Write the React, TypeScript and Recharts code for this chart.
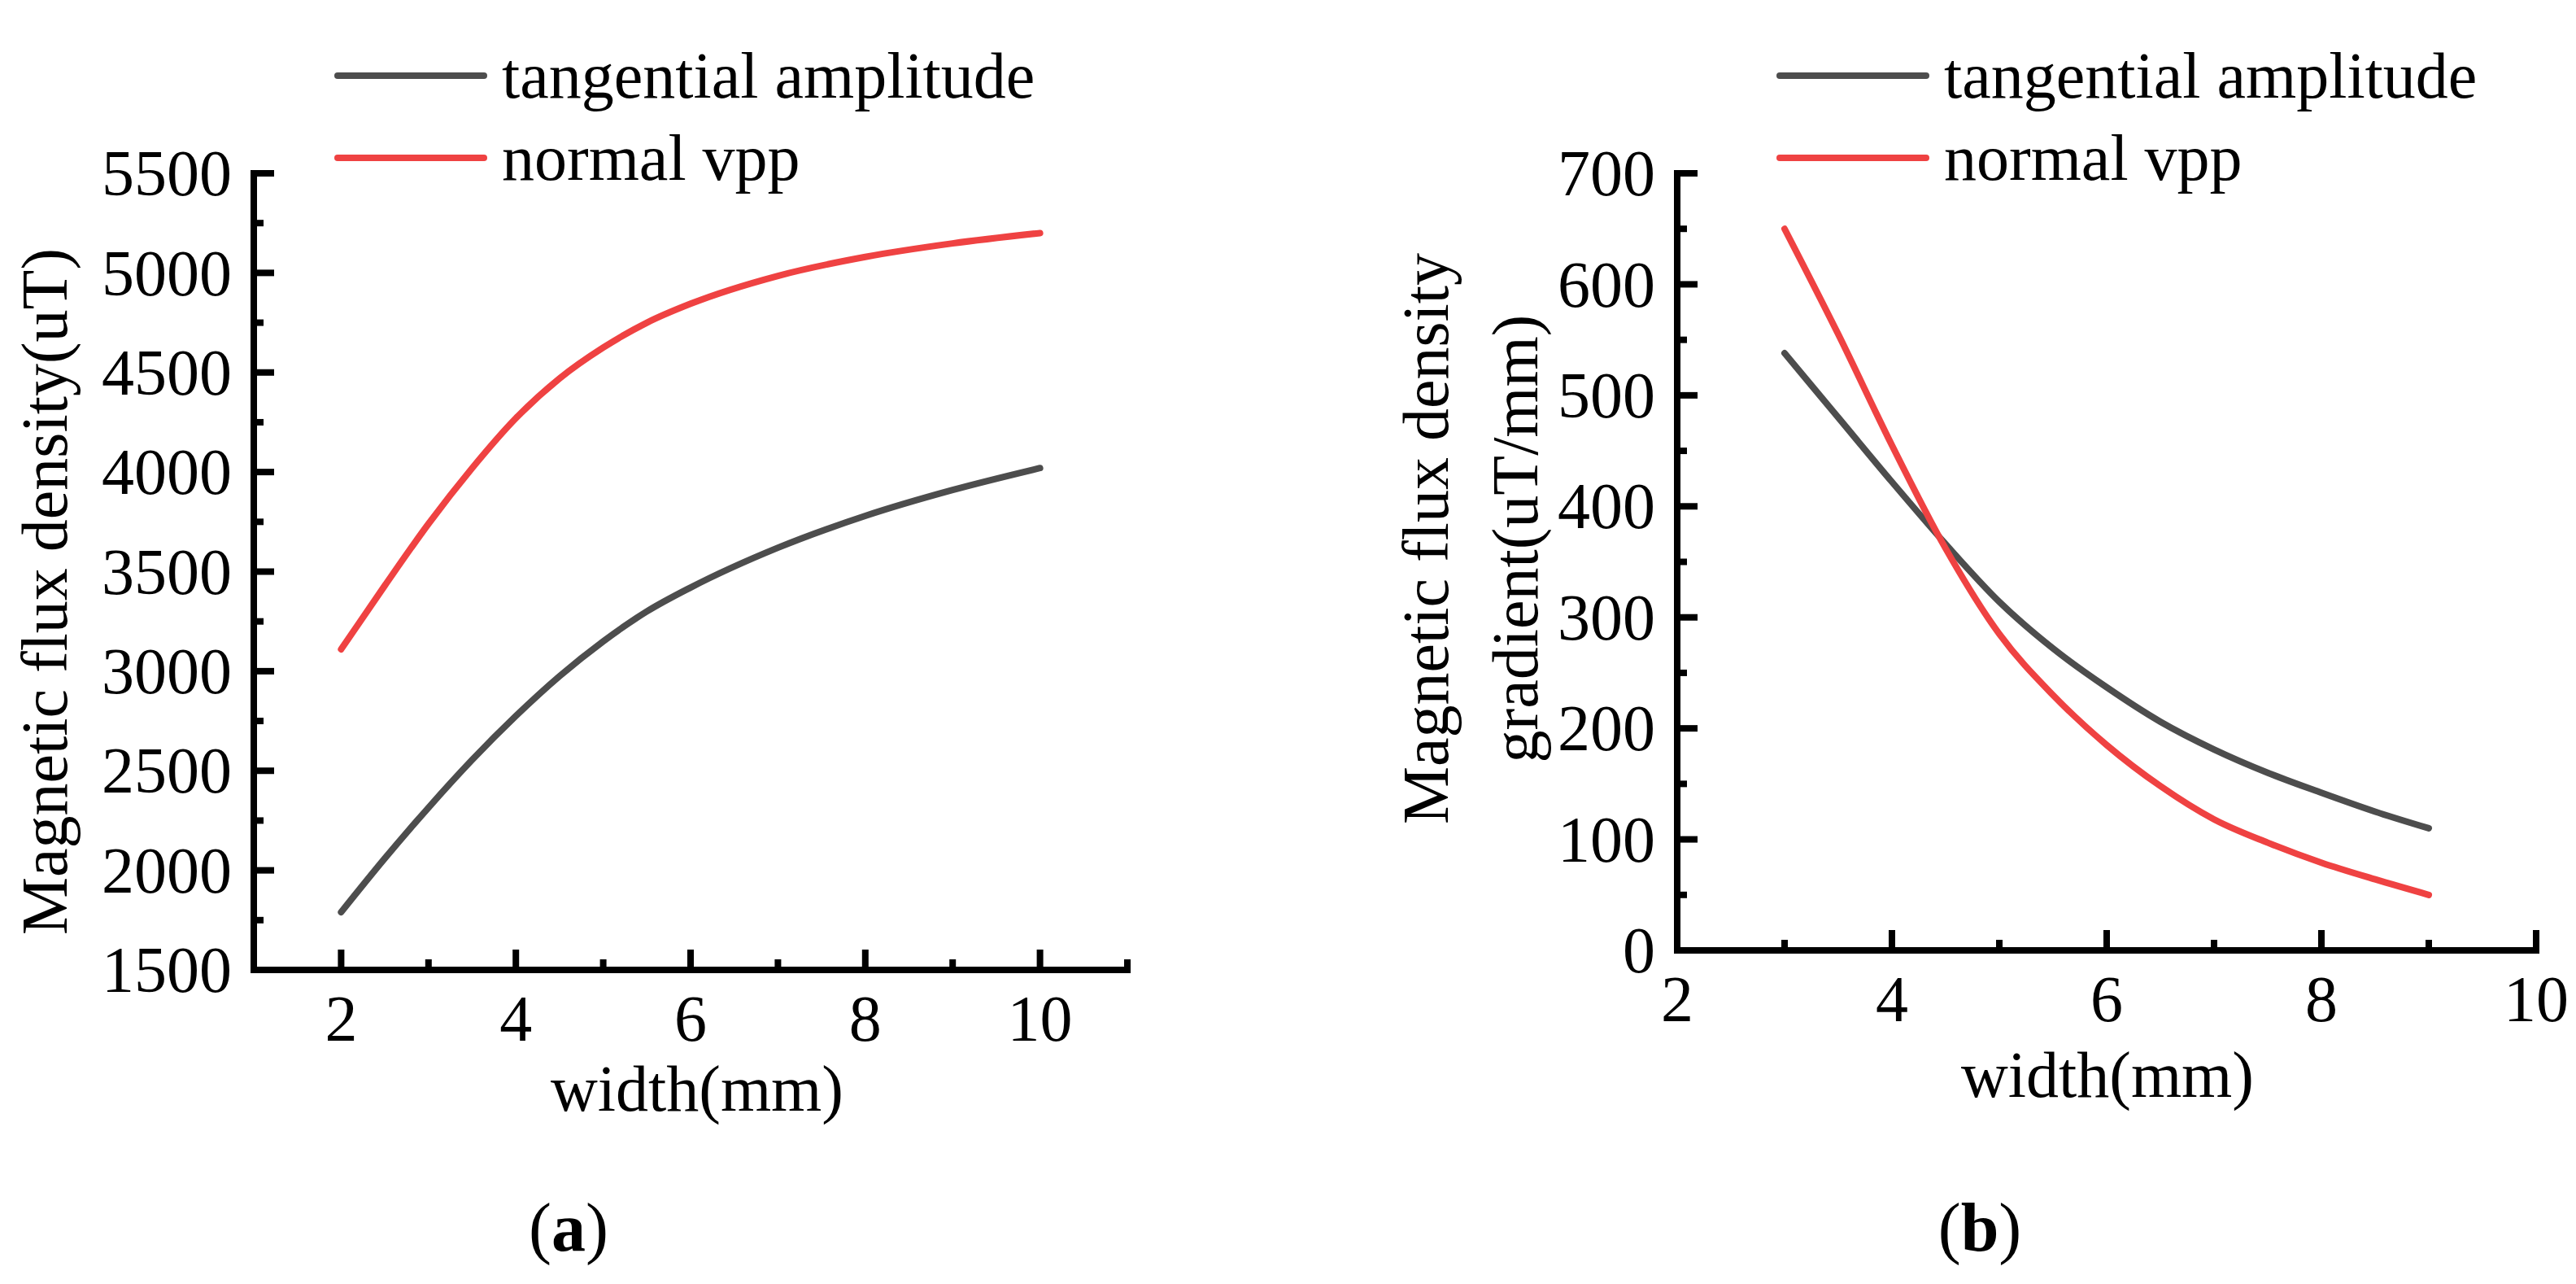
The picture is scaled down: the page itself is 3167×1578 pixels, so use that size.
import { LineChart, Line, XAxis, YAxis, Legend, Label } from 'recharts';

// (a) magnetic flux density vs width
const widthsA = [2, 2.5, 3, 3.5, 4, 4.5, 5, 5.5, 6, 7, 8, 9, 10];
const tangentialA = [1790, 2060, 2315, 2555, 2775, 2975, 3150, 3300, 3420, 3620, 3780, 3910, 4020];
const normalA = [3110, 3430, 3740, 4020, 4270, 4470, 4625, 4750, 4845, 4985, 5080, 5148, 5200];
const xTicksA = [1, 2, 3, 4, 5, 6, 7, 8, 9, 10, 11];
const xLabelsA = [2, 4, 6, 8, 10];
const yTicksA = [1500, 1750, 2000, 2250, 2500, 2750, 3000, 3250, 3500, 3750, 4000, 4250, 4500, 4750, 5000, 5250, 5500];
const yLabelsA = [1500, 2000, 2500, 3000, 3500, 4000, 4500, 5000, 5500];

// (b) magnetic flux density gradient vs width
const widthsB = [3, 3.5, 4, 4.5, 5, 5.5, 6, 6.5, 7, 7.5, 8, 8.5, 9];
const tangentialB = [538, 480, 422, 366, 314, 272, 237, 206, 181, 160, 142, 125, 110];
const normalB = [650, 555, 455, 362, 285, 230, 185, 148, 118, 97, 79, 64, 50];
const xTicksB = [2, 3, 4, 5, 6, 7, 8, 9, 10];
const xLabelsB = [2, 4, 6, 8, 10];
const yTicksB = [0, 50, 100, 150, 200, 250, 300, 350, 400, 450, 500, 550, 600, 650, 700];
const yLabelsB = [0, 100, 200, 300, 400, 500, 600, 700];

const seriesOrder = ['tangential', 'normal'];

const dataA = widthsA.map((w, i) => ({ width: w, tangential: tangentialA[i], normal: normalA[i] }));
const dataB = widthsB.map((w, i) => ({ width: w, tangential: tangentialB[i], normal: normalB[i] }));

const FONT = '"Liberation Serif", "Times New Roman", serif';
const GRAY = '#4d4d4d';
const RED = '#ef4242';

const makeXTick = (labels: number[]) => (props: any) => {
  const { x, y, payload } = props;
  const major = labels.includes(payload.value);
  return (
    <g>
      <line x1={x} x2={x} y1={y} y2={y - (major ? 25 : 13)} stroke="#000" strokeWidth={8} />
      {major && (
        <text x={x} y={y + 87} textAnchor="middle" fontSize={80} fontFamily={FONT} fill="#000">
          {payload.value}
        </text>
      )}
    </g>
  );
};

const makeYTick = (labels: number[]) => (props: any) => {
  const { x, y, payload } = props;
  const major = labels.includes(payload.value);
  return (
    <g>
      <line x1={x} x2={x + (major ? 25 : 12)} y1={y} y2={y} stroke="#000" strokeWidth={8} />
      {major && (
        <text x={x - 27} y={y} dy="0.34em" textAnchor="end" fontSize={80} fontFamily={FONT} fill="#000">
          {payload.value}
        </text>
      )}
    </g>
  );
};

const renderLegend = (props: any) => {
  const items = [...(props.payload || [])].sort(
    (a: any, b: any) => seriesOrder.indexOf(a.dataKey) - seriesOrder.indexOf(b.dataKey)
  );
  return (
    <svg width={1000} height={240} style={{ overflow: 'visible' }}>
      {items.map((p: any, i: number) => (
        <g key={p.value}>
          <line x1={4} x2={184} y1={20 + i * 101} y2={20 + i * 101} stroke={p.color} strokeWidth={8} strokeLinecap="round" />
          <text x={206} y={47 + i * 101} fontSize={80} fontFamily={FONT} fill="#000">
            {p.value}
          </text>
        </g>
      ))}
    </svg>
  );
};

const Caption = ({ x, letter }: { x: number; letter: string }) => (
  <text x={x} y={1537} textAnchor="middle" fontSize={84} fontFamily={FONT} fill="#000">
    <tspan>(</tspan>
    <tspan fontWeight="bold">{letter}</tspan>
    <tspan>)</tspan>
  </text>
);

const axisLine = { stroke: '#000', strokeWidth: 8, strokeLinecap: 'square' as const };

export default function App() {
  return (
    <div style={{ position: 'absolute', left: 0, top: 0, width: 3167, height: 1578, background: '#fff' }}>
      <div style={{ position: 'absolute', left: 0, top: 0 }}>
        <LineChart width={1560} height={1578} data={dataA} margin={{ top: 213, right: 174, bottom: 0, left: 0 }}>
          <XAxis
            dataKey="width"
            type="number"
            domain={[1, 11]}
            ticks={xTicksA}
            interval={0}
            height={386}
            tickSize={0}
            tickMargin={0}
            tickLine={false}
            axisLine={axisLine}
            tick={makeXTick(xLabelsA)}
          >
            <Label
              content={() => (
                <g>
                  <text x={857} y={1365} textAnchor="middle" fontSize={80} fontFamily={FONT} fill="#000">
                    width(mm)
                  </text>
                  <Caption x={699} letter="a" />
                </g>
              )}
            />
          </XAxis>
          <YAxis
            type="number"
            domain={[1500, 5500]}
            ticks={yTicksA}
            interval={0}
            width={312}
            tickSize={0}
            tickMargin={0}
            tickLine={false}
            axisLine={axisLine}
            tick={makeYTick(yLabelsA)}
          >
            <Label
              content={() => (
                <text x={82} y={727} transform="rotate(-90 82 727)" textAnchor="middle" fontSize={80} fontFamily={FONT} fill="#000">
                  Magnetic flux density(uT)
                </text>
              )}
            />
          </YAxis>
          <Legend
            layout="vertical"
            align="center"
            verticalAlign="middle"
            content={renderLegend}
            wrapperStyle={{ left: 411, top: 73, width: 1000, height: 240 }}
          />
          <Line name="tangential amplitude" dataKey="tangential" type="monotone" stroke={GRAY} strokeWidth={8} strokeLinecap="round" dot={false} isAnimationActive={false} />
          <Line name="normal vpp" dataKey="normal" type="monotone" stroke={RED} strokeWidth={8} strokeLinecap="round" dot={false} isAnimationActive={false} />
        </LineChart>
      </div>
      <div style={{ position: 'absolute', left: 1600, top: 0 }}>
        <LineChart width={1567} height={1578} data={dataB} margin={{ top: 213, right: 49, bottom: 0, left: 0 }}>
          <XAxis
            dataKey="width"
            type="number"
            domain={[2, 10]}
            ticks={xTicksB}
            interval={0}
            height={410}
            tickSize={0}
            tickMargin={0}
            tickLine={false}
            axisLine={axisLine}
            tick={makeXTick(xLabelsB)}
          >
            <Label
              content={() => (
                <g>
                  <text x={991} y={1348} textAnchor="middle" fontSize={80} fontFamily={FONT} fill="#000">
                    width(mm)
                  </text>
                  <Caption x={834} letter="b" />
                </g>
              )}
            />
          </XAxis>
          <YAxis
            type="number"
            domain={[0, 700]}
            ticks={yTicksB}
            interval={0}
            width={462}
            tickSize={0}
            tickMargin={0}
            tickLine={false}
            axisLine={axisLine}
            tick={makeYTick(yLabelsB)}
          >
            <Label
              content={() => (
                <g fontSize={80} fontFamily={FONT} fill="#000">
                  <text x={180} y={662} transform="rotate(-90 180 662)" textAnchor="middle">
                    Magnetic flux density
                  </text>
                  <text x={290} y={662} transform="rotate(-90 290 662)" textAnchor="middle">
                    gradient(uT/mm)
                  </text>
                </g>
              )}
            />
          </YAxis>
          <Legend
            layout="vertical"
            align="center"
            verticalAlign="middle"
            content={renderLegend}
            wrapperStyle={{ left: 584, top: 73, width: 1000, height: 240 }}
          />
          <Line name="tangential amplitude" dataKey="tangential" type="monotone" stroke={GRAY} strokeWidth={8} strokeLinecap="round" dot={false} isAnimationActive={false} />
          <Line name="normal vpp" dataKey="normal" type="monotone" stroke={RED} strokeWidth={8} strokeLinecap="round" dot={false} isAnimationActive={false} />
        </LineChart>
      </div>
    </div>
  );
}
